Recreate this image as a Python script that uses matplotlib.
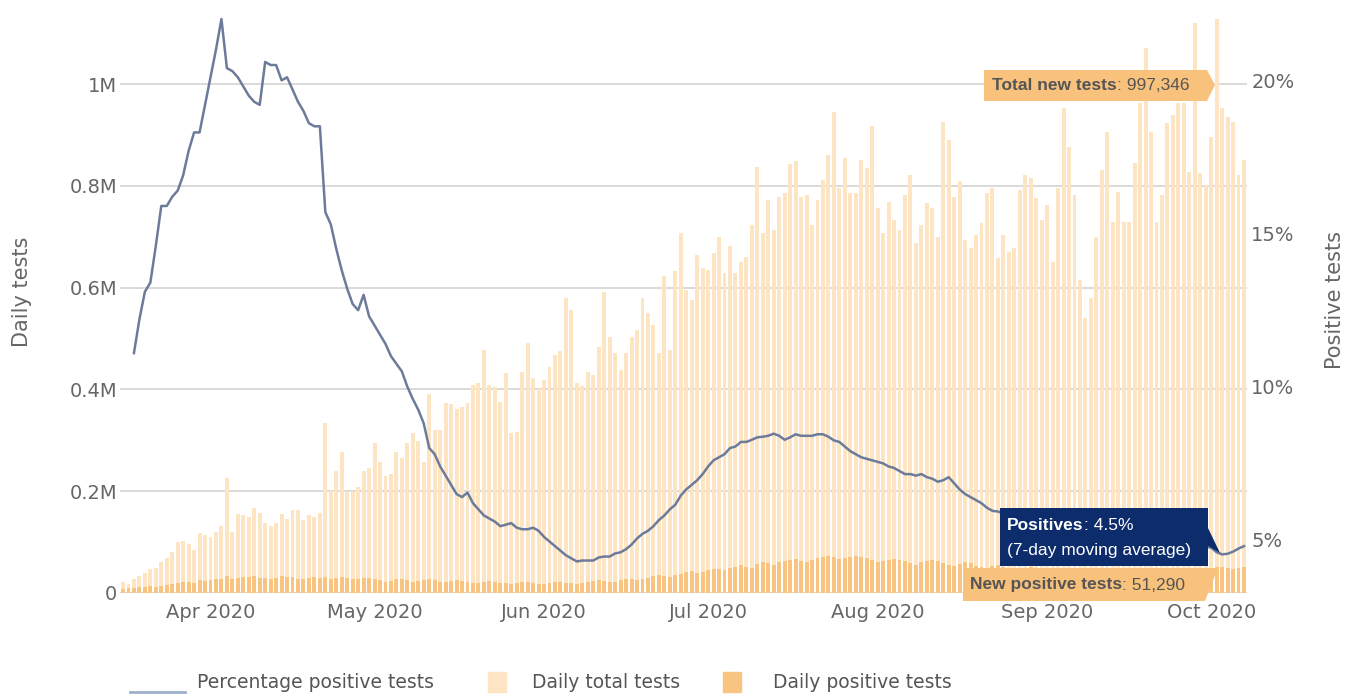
import numpy as np
import pandas as pd
import matplotlib
matplotlib.use("Agg")
import matplotlib.pyplot as plt
import matplotlib.dates as mdates
from matplotlib.patches import Polygon, Rectangle
from matplotlib.lines import Line2D

W, H = 1361, 695

# daily values, 16 Mar 2020 .. 7 Oct 2020 (thousands of tests)
dates = pd.date_range("2020-03-16", "2020-10-07", freq="D")
total_tests_k = [
    21, 18, 27, 33, 40, 47, 49, 60, 68, 81, 101, 102, 96, 85, 118, 114,
    111, 120, 132, 226, 119, 156, 154, 150, 167, 158, 137, 132, 138, 156, 146, 164,
    163, 143, 153, 150, 158, 335, 200, 239, 278, 201, 201, 209, 239, 245,
    294, 258, 229, 234, 278, 265, 294, 314, 298, 258, 391, 320, 320, 374, 372, 361,
    366, 373, 409, 413, 477, 409, 405, 376, 432, 315, 317, 435, 492, 422, 400,
    419, 445, 468, 475, 579, 556, 412, 406, 435, 429, 484, 592, 504, 471, 439, 471,
    504, 517, 579, 550, 527, 471, 622, 478, 632, 707, 596, 576, 664, 638,
    635, 668, 700, 628, 681, 628, 651, 661, 723, 838, 707, 773, 714, 779, 786, 843,
    848, 779, 782, 723, 773, 812, 861, 946, 795, 854, 786, 786, 851, 835, 917,
    756, 707, 769, 733, 714, 782, 822, 687, 723, 766, 756, 700, 926, 890, 779, 809,
    694, 678, 703, 727, 786, 796, 658, 703, 670, 678, 792, 821, 815, 776, 733,
    762, 651, 796, 953, 877, 782, 615, 540, 580, 700, 831, 906, 729, 788, 729, 729,
    845, 963, 1071, 906, 729, 782, 923, 939, 963, 963, 828, 1120, 825, 802,
    896, 1128, 953, 935, 926, 821, 851,
]
positive_tests_k = [
    8, 9, 10, 11, 12, 13, 12, 14, 16, 18, 20, 22, 21, 20, 25, 24,
    26, 28, 27, 33, 28, 30, 31, 32, 34, 30, 29, 27, 30, 33, 31, 32, 28, 27, 30, 31,
    30, 32, 27, 30, 32, 30, 28, 27, 29, 30,
    28, 25, 22, 24, 27, 28, 25, 22, 23, 26, 27, 25, 22, 21, 24, 25, 24, 22, 20, 19,
    22, 23, 22, 20, 19, 18, 20, 22, 21, 19, 18,
    18, 20, 22, 21, 20, 19, 18, 20, 22, 24, 25, 23, 21, 22, 26, 28, 27, 25, 27, 30,
    33, 35, 33, 32, 35, 38, 42, 44, 40, 42,
    45, 48, 47, 45, 50, 52, 55, 52, 50, 57, 60, 58, 55, 60, 62, 65, 66, 62, 60, 64,
    68, 70, 72, 70, 66, 68, 71, 72, 70, 68, 65,
    60, 62, 64, 66, 64, 62, 58, 56, 60, 63, 65, 62, 58, 55, 54, 57, 60, 58, 54, 52,
    50, 53, 55, 52, 50, 48, 47, 50, 52, 50, 48,
    46, 45, 48, 50, 47, 44, 42, 40, 43, 46, 48, 45, 43, 42, 45, 48, 47, 44, 42, 41,
    44, 46, 48, 45, 43, 42, 45, 48, 50, 47,
    48, 52, 51, 50, 47, 49, 51,
]
# 7-day moving average of percentage positive, 18 Mar .. 7 Oct
pct_dates = dates[2:]
pct_positive = [
    11.1, 12.2, 13.1, 13.4, 14.6, 15.9, 15.9, 16.2, 16.4, 16.9, 17.7, 18.3, 18.3, 19.2, 20.1, 21.0,
    22.0, 20.4, 20.3, 20.1, 19.8, 19.5, 19.3, 19.2, 20.6, 20.5, 20.5, 20.0, 20.1, 19.7, 19.3, 19.0,
    18.6, 18.5, 18.5,
    15.7, 15.3, 14.5, 13.8, 13.2, 12.7, 12.5, 13.0, 12.3, 12.0, 11.7, 11.4, 11.0, 10.75, 10.5, 10.0,
    9.6, 9.25, 8.8,
    8.0, 7.8, 7.4, 7.1, 6.8, 6.5, 6.4, 6.55, 6.2, 6.0, 5.8, 5.7, 5.6, 5.45, 5.5, 5.55, 5.4, 5.35,
    5.35, 5.4, 5.3, 5.1, 4.95, 4.8, 4.65,
    4.5, 4.4, 4.3, 4.33, 4.33, 4.33, 4.43, 4.46, 4.46, 4.56, 4.6, 4.7, 4.85, 5.05, 5.2, 5.3, 5.45,
    5.65, 5.8, 6.0, 6.15, 6.45, 6.65, 6.8, 6.95, 7.15, 7.4, 7.6, 7.7, 7.8,
    8.0, 8.05, 8.2, 8.2, 8.27, 8.35, 8.37, 8.4, 8.47, 8.4, 8.27, 8.35, 8.45, 8.4, 8.4, 8.4, 8.45,
    8.45, 8.37, 8.25, 8.2, 8.05, 7.9, 7.8, 7.7, 7.65, 7.6, 7.55, 7.5, 7.4,
    7.35, 7.25, 7.15, 7.15, 7.1, 7.15, 7.05, 7.0, 6.9, 6.95, 7.05, 6.85, 6.65, 6.5, 6.4, 6.3, 6.2,
    6.05, 5.95, 5.93, 5.86,
    5.8, 5.75, 5.7, 5.62, 5.55, 5.5, 5.45, 5.4, 5.35, 5.3, 5.22, 5.15, 5.1, 5.05, 5.0, 4.95, 4.9,
    4.9, 4.85, 4.8, 4.8, 4.78, 4.75, 4.75, 4.72, 4.7, 4.7, 4.72, 4.75, 4.75, 4.78, 4.8, 4.8, 4.82,
    4.8, 4.8, 4.78,
    4.75, 4.6, 4.53, 4.55, 4.62, 4.72, 4.8,
]
left_ticks = [0, 200000, 400000, 600000, 800000, 1000000]
left_labels = ["0", "0.2M", "0.4M", "0.6M", "0.8M", "1M"]
right_ticks = [5, 10, 15, 20]
month_ticks = ["2020-04-01", "2020-05-01", "2020-06-01", "2020-07-01",
               "2020-08-01", "2020-09-01", "2020-10-01"]

LIGHT = "#fde4c3"
DARK = "#f8c47f"
LINE = "#6d7b9b"
GREY = "#666666"
NAVY = "#0d2c6c"
TIP = "#f9c27c"


def fx(x):
    return x / W


def fy(y):
    return 1 - y / H


x = mdates.date2num(dates)
fig = plt.figure(figsize=(W / 100, H / 100), dpi=100)
ax = fig.add_axes([fx(120), fy(593), (1247 - 120) / W, (593 - 12) / H])
ax.bar(x, np.array(total_tests_k) * 1000, width=0.72, color=LIGHT, zorder=2)
ax.bar(x, np.array(positive_tests_k) * 1000, width=0.72, color=DARK, zorder=3)
ax.set_xlim(x[0] - 0.55, x[-1] + 0.55)
ax.set_ylim(0, 1141700)
ax.set_yticks(left_ticks)
ax.set_yticklabels(left_labels)
ax.yaxis.grid(True, color="#d3d3d3", lw=1.2, zorder=0)
ax.set_axisbelow(True)
mt = mdates.date2num(pd.to_datetime(month_ticks))
ax.set_xticks(mt)
ax.set_xticklabels([pd.Timestamp(m).strftime("%b %Y") for m in month_ticks])
ax.tick_params(axis="y", length=0, pad=2, labelsize=14, labelcolor=GREY)
ax.tick_params(axis="x", length=0, pad=7, labelsize=14, labelcolor=GREY)
for s in ax.spines.values():
    s.set_visible(False)

ax2 = ax.twinx()
ax2.plot(mdates.date2num(pct_dates), pct_positive, color=LINE, lw=1.8, zorder=5)
ax2.set_ylim(3.27, 22.23)
ax2.set_yticks(right_ticks)
ax2.set_yticklabels([f"{t}%" for t in right_ticks])
ax2.tick_params(axis="y", length=0, pad=3, labelsize=14, labelcolor=GREY)
for s in ax2.spines.values():
    s.set_visible(False)

fig.text(fx(22), fy(292), "Daily tests", rotation=90, ha="center", va="center",
         fontsize=15, color=GREY)
fig.text(fx(1335), fy(300), "Positive tests", rotation=90, ha="center", va="center",
         fontsize=15, color=GREY)

renderer = fig.canvas.get_renderer()


def poly(pts, color):
    p = Polygon([(fx(a), fy(b)) for a, b in pts], closed=True, facecolor=color,
                edgecolor="none", transform=fig.transFigure, zorder=6)
    fig.patches.append(p)


def tip_text(x0, y0, bold, rest, color):
    t = fig.text(fx(x0), fy(y0), bold, fontweight="bold", fontsize=12.5, color=color,
                 va="center", ha="left", family="Liberation Sans", zorder=7)
    x1 = t.get_window_extent(renderer).x1
    fig.text(x1 / W, fy(y0), rest, fontsize=12.5, color=color, va="center", ha="left",
             family="Liberation Sans", zorder=7)


# tooltips
poly([(984, 70), (1207, 70), (1215, 85), (1207, 101), (984, 101)], TIP)
tip_text(992, 86, "Total new tests", ": 997,346", "#555555")

poly([(1000, 508), (1208, 508), (1208, 528), (1220, 553), (1208, 546), (1208, 566),
      (1000, 566)], NAVY)
tip_text(1007, 526, "Positives", ": 4.5%", "white")
fig.text(fx(1007), fy(550), "(7-day moving average)", fontsize=12.5, color="white",
         va="center", ha="left", family="Liberation Sans", zorder=7)

poly([(963, 568), (1218, 568), (1205, 601), (963, 601)], TIP)
tip_text(970, 585, "New positive tests", ": 51,290", "#555555")

# legend
fig.lines.append(Line2D([fx(130), fx(185)], [fy(692), fy(692)], color="#9fb0cc", lw=2,
                        transform=fig.transFigure))
fig.patches.append(Rectangle((fx(488), fy(692)), 18 / W, 20 / H, color=LIGHT,
                             transform=fig.transFigure))
fig.patches.append(Rectangle((fx(723), fy(692)), 18 / W, 20 / H, color=DARK,
                             transform=fig.transFigure))
for lx, lt in [(197, "Percentage positive tests"), (532, "Daily total tests"),
               (773, "Daily positive tests")]:
    fig.text(fx(lx), fy(682), lt, fontsize=13.5, color="#555555", va="center", ha="left")

fig.savefig("out.png", dpi=100)
